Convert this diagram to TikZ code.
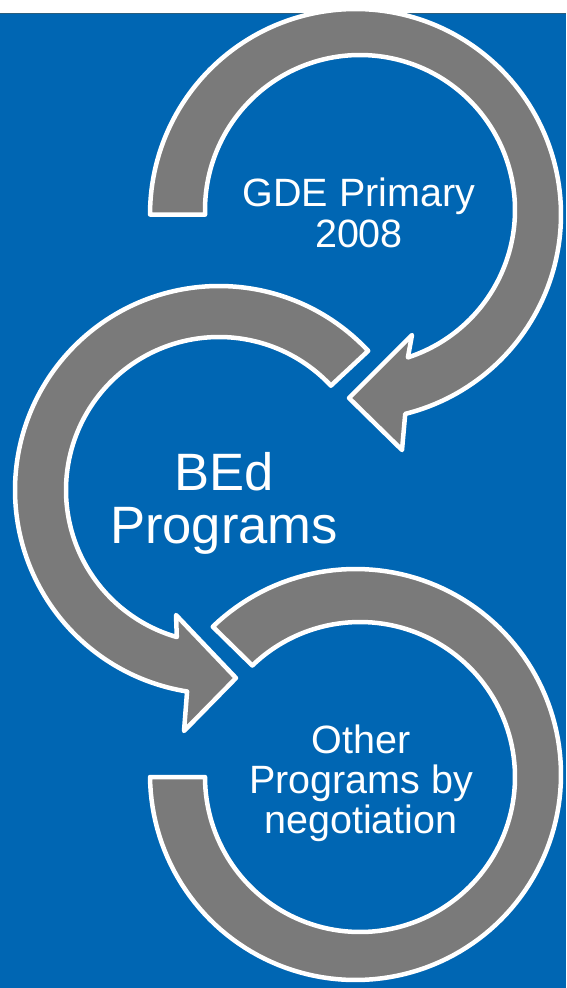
\documentclass[tikz,border=0pt]{standalone}
\usepackage{fontspec}
\setmainfont{Liberation Sans}
\definecolor{bgblue}{HTML}{0066B3}
\definecolor{ringgray}{HTML}{7A7A7A}
\definecolor{edgeline}{HTML}{2A5E7E}
\begin{document}
\begin{tikzpicture}[x=1pt,y=-1pt,
  ring/.style={fill=ringgray, draw=white, line width=4.5pt, line join=round},
  lbl/.style={text=white, align=center, inner sep=0pt, anchor=north}]
\useasboundingbox (0,0) rectangle (566,988);
\fill[white] (0,0) rectangle (566,12.5);
\fill[bgblue] (0,12.5) rectangle (566,988);
\draw[edgeline, line width=1pt] (0,13) -- (566,13);
% ring 1
\draw[ring] plot[domain=180:436, samples=150] ({355.5+205.5*cos(\x)},{214.5+205.5*sin(\x)})
  -- (402,450) -- (349,398) -- (412,335)
  -- plot[domain=432:178.3, samples=150] ({360+155*cos(\x)},{210+155*sin(\x)}) -- cycle;
% ring 2
\draw[ring] plot[domain=-43:-261, samples=150] ({219+204*cos(\x)},{490+204*sin(\x)})
  -- (184,731) -- (236,678) -- (176,615)
  -- plot[domain=-254:-43, samples=150] ({219+153*cos(\x)},{490+153*sin(\x)}) -- cycle;
% ring 3
\draw[ring] plot[domain=226:539.3, samples=150] ({355.5+205.5*cos(\x)},{774.5+205.5*sin(\x)})
  -- plot[domain=540:226, samples=150] ({360+155*cos(\x)},{777+155*sin(\x)}) -- cycle;
\node[lbl, font=\fontsize{39.5}{41}\selectfont] (t1) at (359,178) {GDE Primary\\2008};
\node[lbl, font=\fontsize{52.6}{53}\selectfont] (t2) at (224,452) {BEd\\Programs};
\node[lbl, font=\fontsize{39.5}{40}\selectfont] (t3) at (361,725) {Other\\Programs by\\negotiation};
\end{tikzpicture}
\end{document}
